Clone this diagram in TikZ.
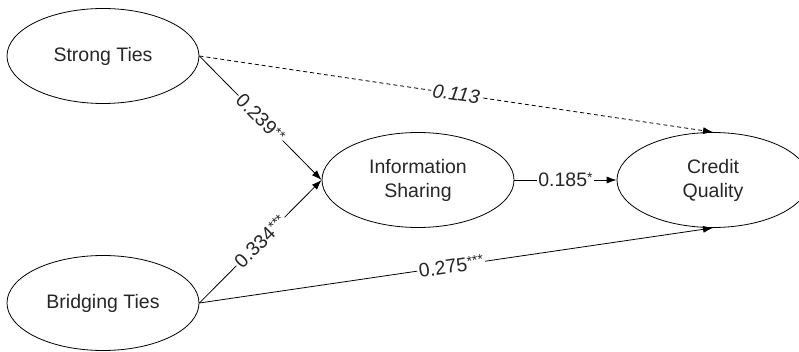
\documentclass[tikz,border=0pt]{standalone}
\usepackage{fontspec}
\setmainfont{Liberation Sans}
\usetikzlibrary{shapes.geometric,arrows.meta}
\newcommand{\sigstars}[1]{\raisebox{0.22em}{\fontsize{14}{14}\selectfont#1}}
\begin{document}
\begin{tikzpicture}[x=1pt,y=-1pt,
    font=\fontsize{19.5}{24}\selectfont, text=black!85,
    latent node/.style={ellipse,draw,line width=0.8pt,minimum width=192pt,minimum height=95pt,inner sep=0pt,align=center},
    effect line/.style={-{Latex[length=10pt,width=7pt]},line width=0.8pt},
    coef label/.style={fill=white,inner sep=1.5pt,sloped} ]
    \useasboundingbox (0,0) rectangle (799,352);
    \node at (103,56) [latent node] (ST) {Strong Ties};
    \node at (103,303) [latent node] (BT) {Bridging Ties};
    \node at (418,180) [latent node] (IS) {Information\\Sharing};
    \node at (713,180) [latent node] (CQ) {Credit\\Quality};
    \draw [effect line, dash pattern=on 4pt off 3pt] (ST.east) to node[coef label] {\textit{0.113}} (CQ.north);
    \draw [effect line] (ST.east) to node[coef label] {0.239\sigstars{**}} (IS.west);
    \draw [effect line] (BT.east) to node[coef label] {0.334\sigstars{***}} (IS.west);
    \draw [effect line] (BT.east) to node[coef label,pos=0.49] {0.275\sigstars{***}} (CQ.south);
    \draw [effect line] (IS.east) to node[coef label] {0.185\sigstars{*}} (CQ.west);
\end{tikzpicture}
\end{document}
